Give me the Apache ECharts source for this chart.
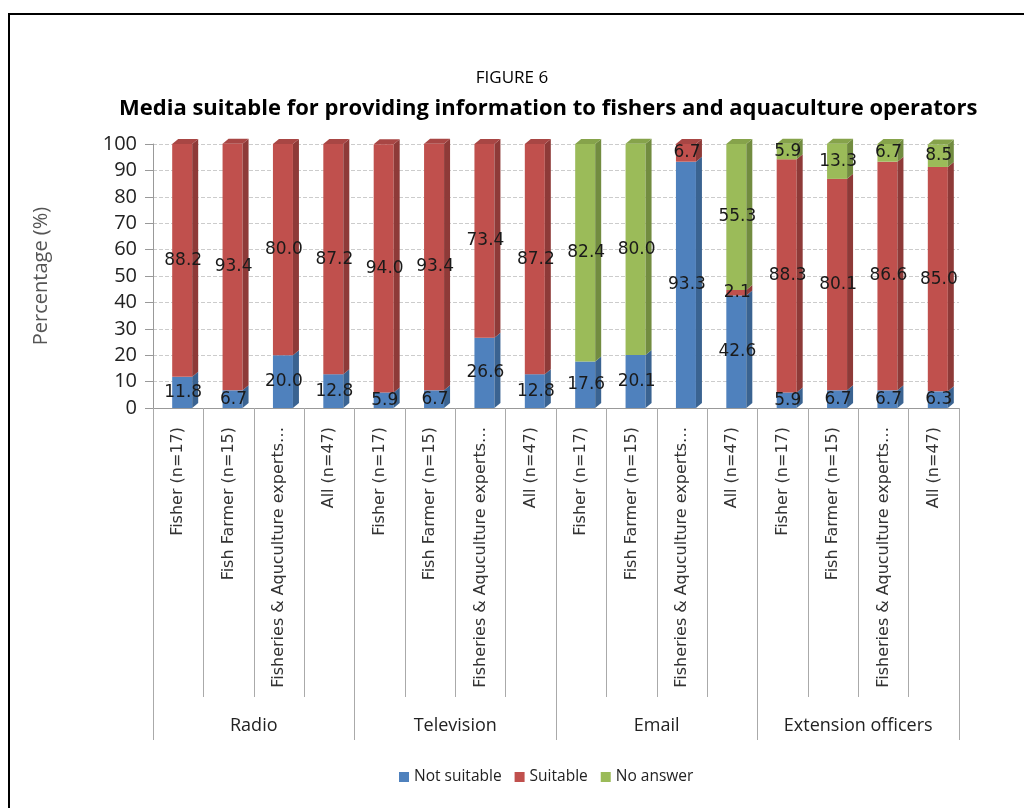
<!DOCTYPE html>
<html>
<head>
<meta charset="utf-8">
<script src="https://cdn.jsdelivr.net/npm/echarts@6/dist/echarts.min.js"></script>
<style>
html,body{margin:0;padding:0;background:#fff;}
#chart{width:1024px;height:808px;}
</style>
</head>
<body>
<div id="chart"></div>
<script>
const categories = [
  'Fisher (n=17)', 'Fish Farmer (n=15)', 'Fisheries & Aquculture experts (n=15)', 'All (n=47)',
  'Fisher (n=17)', 'Fish Farmer (n=15)', 'Fisheries & Aquculture experts (n=15)', 'All (n=47)',
  'Fisher (n=17)', 'Fish Farmer (n=15)', 'Fisheries & Aquculture experts (n=15)', 'All (n=47)',
  'Fisher (n=17)', 'Fish Farmer (n=15)', 'Fisheries & Aquculture experts (n=15)', 'All (n=47)'
];
const groups = ['Radio', 'Television', 'Email', 'Extension officers'];
const seriesNames = ['Not suitable', 'Suitable', 'No answer'];
const notSuitable = [11.8, 6.7, 20.0, 12.8, 5.9, 6.7, 26.6, 12.8, 17.6, 20.1, 93.3, 42.6, 5.9, 6.7, 6.7, 6.3];
const suitable    = [88.2, 93.4, 80.0, 87.2, 94.0, 93.4, 73.4, 87.2, 0, 0, 6.7, 2.1, 88.3, 80.1, 86.6, 85.0];
const noAnswer    = [0, 0, 0, 0, 0, 0, 0, 0, 82.4, 80.0, 0, 55.3, 5.9, 13.3, 6.7, 8.5];
const yTicks = [0, 10, 20, 30, 40, 50, 60, 70, 80, 90, 100];

const values = [notSuitable, suitable, noAnswer];
const fronts = ['#4F81BD', '#C0504D', '#9BBB59'];
const sides  = ['#3A6391', '#8E3A38', '#728C40'];
const tops   = ['#5A8AC4', '#A84644', '#86A34B'];

// build stacked segments
const stacked = values.map(() => []);
const labelData = [];
categories.forEach((c, i) => {
  let base = 0;
  let lastNonZero = -1;
  values.forEach((arr, s) => { if (arr[i] > 0) lastNonZero = s; });
  values.forEach((arr, s) => {
    const v = arr[i];
    stacked[s].push([i, base, v, s === lastNonZero ? 1 : 0]);
    if (v > 0) labelData.push([i, base + v / 2, v]);
    base += v;
  });
});

const W = 20, DX = 6, DY = 5, OFF = -6;

function makeRender(s) {
  return function (params, api) {
    const i = api.value(0), b = api.value(1), v = api.value(2), isTop = api.value(3);
    if (!(v > 0)) return;
    const p0 = api.coord([i, b]);
    const p1 = api.coord([i, b + v]);
    const x0 = p0[0] + OFF;
    const children = [
      { type: 'rect', shape: { x: x0, y: p1[1], width: W, height: p0[1] - p1[1] }, style: { fill: fronts[s] } },
      { type: 'polygon', shape: { points: [[x0 + W, p1[1]], [x0 + W + DX, p1[1] - DY], [x0 + W + DX, p0[1] - DY], [x0 + W, p0[1]]] }, style: { fill: sides[s] } }
    ];
    if (isTop) {
      children.push({ type: 'polygon', shape: { points: [[x0, p1[1]], [x0 + DX, p1[1] - DY], [x0 + W + DX, p1[1] - DY], [x0 + W, p1[1]]] }, style: { fill: tops[s] } });
    }
    return { type: 'group', children: children };
  };
}

const series = seriesNames.map((name, s) => ({
  name: name,
  type: 'custom',
  renderItem: makeRender(s),
  data: stacked[s],
  encode: { x: 0, y: [1, 2] },
  itemStyle: { color: fronts[s] },
  z: 2
}));

series.push({
  name: 'labels',
  type: 'custom',
  data: labelData,
  encode: { x: 0, y: 1 },
  z: 10,
  silent: true,
  renderItem: function (params, api) {
    const p = api.coord([api.value(0), api.value(1)]);
    return {
      type: 'text',
      x: p[0] + OFF + W / 2 + 1,
      y: p[1],
      style: {
        text: api.value(2).toFixed(1),
        fill: '#1a1a1a',
        font: '17px "DejaVu Sans"',
        align: 'center',
        verticalAlign: 'middle'
      }
    };
  }
});

const chart = echarts.init(document.getElementById('chart'), null, { renderer: 'canvas' });
chart.setOption({
  animation: false,
  color: fronts,
  title: [
    { text: 'FIGURE 6', left: 'center', top: 65,
      textStyle: { fontFamily: 'Open Sans', fontSize: 17, fontWeight: 'normal', color: '#000' } },
    { text: 'Media suitable for providing information to fishers and aquaculture operators', left: 114, top: 93,
      textStyle: { fontFamily: 'Open Sans', fontSize: 22, fontWeight: 'bold', color: '#000' } }
  ],
  graphic: [
    { type: 'rect', shape: { x: 9, y: 14, width: 1200, height: 1000 }, style: { fill: 'none', stroke: '#000', lineWidth: 2 }, silent: true }
  ],
  legend: {
    data: seriesNames,
    left: 394, top: 764,
    icon: 'rect', itemWidth: 10, itemHeight: 10, itemGap: 13, itemTextGap: 5,
    textStyle: { fontFamily: 'Open Sans', fontSize: 15.5, color: '#222' }
  },
  grid: { left: 153, right: 65, top: 144, bottom: 400, containLabel: false },
  xAxis: [
    {
      type: 'category', data: categories, position: 'bottom', offset: 0,
      axisLine: { show: true, lineStyle: { color: '#999' } },
      axisTick: { show: true, length: 289, interval: 0, lineStyle: { color: '#aaa' } },
      axisLabel: { interval: 0, rotate: 90, margin: 19, fontFamily: 'DejaVu Sans', fontSize: 16, color: '#333',
        width: 262, overflow: 'truncate', ellipsis: '…' }
    },
    {
      type: 'category', data: groups, position: 'bottom', offset: 0,
      axisLine: { show: false },
      axisTick: { show: true, length: 332, lineStyle: { color: '#aaa' } },
      axisLabel: { margin: 309, fontFamily: 'Open Sans', fontSize: 18, color: '#222' }
    }
  ],
  yAxis: {
    type: 'value', min: 0, max: 100, interval: 10,
    name: 'Percentage (%)', nameLocation: 'middle', nameGap: 102,
    nameTextStyle: { fontFamily: 'Open Sans', fontSize: 20, color: '#555' },
    axisLine: { show: true, lineStyle: { color: '#999' } },
    axisTick: { show: true, length: 8, lineStyle: { color: '#999' } },
    axisLabel: { margin: 16, fontFamily: 'Open Sans', fontSize: 20, color: '#222',
      formatter: function (v) { return yTicks.indexOf(v) >= 0 ? String(v) : ''; } },
    splitLine: { show: true, lineStyle: { color: '#ccc', type: 'dashed' } }
  },
  series: series
});
</script>
</body>
</html>
